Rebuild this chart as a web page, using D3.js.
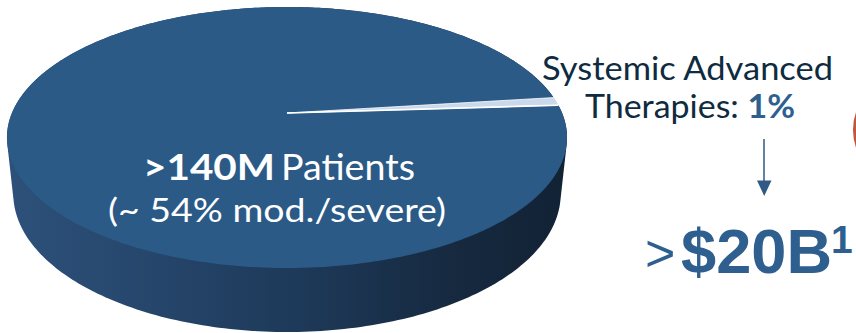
<!DOCTYPE html>
<html>
<head>
<meta charset="utf-8">
<script src="https://cdn.jsdelivr.net/npm/d3@7"></script>
<style>
  html, body { margin: 0; padding: 0; background: #ffffff; }
  svg { display: block; }
</style>
</head>
<body>
<svg id="chart" width="856" height="333"></svg>
<script>
// ---------------- data ----------------
const categories = ["Other patients", "Systemic Advanced Therapies"];
const shares = [99, 1];                       // percent of patients
const headlineValue = ">140M";
const headlineUnit = "Patients";
const subLine = "(~ 54% mod./severe)";
const calloutLine1 = "Systemic Advanced";
const calloutLine2 = "Therapies: ";
const calloutShare = "1%";
const marketPrefix = ">";
const marketValue = "$20B";
const marketFootnote = "1";

// ---------------- setup ----------------
const svg = d3.select("#chart");

const colors = d3.scaleOrdinal()
  .domain(categories)
  .range(["#2b5a87", "#c9d8ea"]);

// perspective projection of a disc (radius 1) lying in a horizontal plane
const cam = { u0: 287, v0: 113, f: 1303, D: 4.737, alpha: Math.asin(0.4578), depth: 0.2327 };
function project(X, Y, Z) {
  const ca = Math.cos(cam.alpha), sa = Math.sin(cam.alpha);
  const yc = Y * ca - Z * sa;
  const zc = cam.D - (Y * sa + Z * ca);
  return [cam.u0 + cam.f * X / zc, cam.v0 - cam.f * yc / zc];
}
// d3 pie angle (clockwise from 12 o'clock, 12 o'clock = far side)
function rimPoint(a, Y) { return project(Math.sin(a), Y, -Math.cos(a)); }

const systemicShare = shares[1] / d3.sum(shares);
const start = Math.PI / 2 - 2 * Math.PI * systemicShare;
const pie = d3.pie().sort(null).value(d => d.v)
  .startAngle(start).endAngle(start + 2 * Math.PI);
const arcs = pie(categories.map((c, i) => ({ c, v: shares[i] })));

// gradient for the side wall
const defs = svg.append("defs");
const grad = defs.append("linearGradient").attr("id", "side")
  .attr("x1", "0%").attr("x2", "100%").attr("y1", "0%").attr("y2", "0%");
[["0%", "#2d517a"], ["25%", "#26466c"], ["55%", "#1d3857"], ["80%", "#16293f"], ["100%", "#122235"]]
  .forEach(([o, c]) => grad.append("stop").attr("offset", o).attr("stop-color", c));

// side wall: hull of top and bottom rims
const rimPts = [];
const N = 360;
for (let i = 0; i < N; i++) {
  const a = i / N * 2 * Math.PI;
  rimPts.push(rimPoint(a, 0));
  rimPts.push(rimPoint(a, -cam.depth));
}
const hull = d3.polygonHull(rimPts);
svg.append("path")
  .attr("d", d3.line()(hull) + "Z")
  .attr("fill", "url(#side)");

// top face slices
const line = d3.line();
arcs.forEach(d => {
  const pts = [project(0, 0, 0)];
  const n = Math.max(4, Math.ceil((d.endAngle - d.startAngle) / (Math.PI / 180)) * 2);
  for (let i = 0; i <= n; i++) {
    const a = d.startAngle + (d.endAngle - d.startAngle) * i / n;
    pts.push(rimPoint(a, 0));
  }
  svg.append("path")
    .attr("d", line(pts) + "Z")
    .attr("fill", colors(d.data.c))
    .attr("stroke", d.data.c === categories[1] ? "#ffffff" : "none")
    .attr("stroke-width", 0.8)
    .attr("stroke-linejoin", "round");
});
// white separator line along the slice edge
const edgeA = arcs[1].endAngle;
svg.append("path")
  .attr("d", line([project(0, 0, 0), rimPoint(edgeA, 0)]))
  .attr("stroke", "#ffffff").attr("stroke-width", 1.6).attr("fill", "none");

// ---------------- labels on pie ----------------
const lato = "Lato, 'Open Sans', sans-serif";
svg.append("text")
  .attr("x", 143).attr("y", 179.5)
  .attr("font-family", lato).attr("font-weight", 700).attr("font-size", 37)
  .attr("fill", "#ffffff")
  .attr("textLength", 132).attr("lengthAdjust", "spacingAndGlyphs")
  .text(headlineValue);
svg.append("text")
  .attr("x", 281).attr("y", 179.5)
  .attr("font-family", lato).attr("font-weight", 400).attr("font-size", 36)
  .attr("fill", "#ffffff")
  .attr("textLength", 134).attr("lengthAdjust", "spacingAndGlyphs")
  .text(headlineUnit);
svg.append("text")
  .attr("x", 108).attr("y", 222)
  .attr("font-family", lato).attr("font-weight", 400).attr("font-size", 33)
  .attr("fill", "#ffffff")
  .attr("textLength", 338).attr("lengthAdjust", "spacingAndGlyphs")
  .text(subLine);

// ---------------- callout ----------------
const navy = "#0e2b40", blue = "#2e5f8f";
svg.append("text")
  .attr("x", 542).attr("y", 80)
  .attr("font-family", lato).attr("font-size", 32).attr("fill", navy)
  .attr("textLength", 291).attr("lengthAdjust", "spacingAndGlyphs")
  .text(calloutLine1);
const t2 = svg.append("text")
  .attr("x", 585).attr("y", 118)
  .attr("font-family", lato).attr("font-size", 32).attr("fill", navy)
  .attr("textLength", 210).attr("lengthAdjust", "spacingAndGlyphs");
t2.append("tspan").text(calloutLine2);
t2.append("tspan").attr("font-weight", 700).attr("fill", blue).text(calloutShare);

// arrow
svg.append("line")
  .attr("x1", 764).attr("x2", 764).attr("y1", 139).attr("y2", 182)
  .attr("stroke", "#2e5a85").attr("stroke-width", 1.5);
svg.append("path")
  .attr("d", line([[757, 180.5], [771.5, 180.5], [764.2, 196]]) + "Z")
  .attr("fill", "#2e5a85");

// market value
const arial = "'Liberation Sans', Arial, sans-serif";
svg.append("text")
  .attr("x", 645).attr("y", 270.5)
  .attr("font-family", arial).attr("font-size", 52).attr("fill", blue)
  .text(marketPrefix);
svg.append("text")
  .attr("x", 681).attr("y", 273)
  .attr("font-family", arial).attr("font-weight", 700).attr("font-size", 63).attr("fill", blue)
  .attr("textLength", 151).attr("lengthAdjust", "spacingAndGlyphs")
  .text(marketValue);
svg.append("text")
  .attr("x", 831).attr("y", 253)
  .attr("font-family", arial).attr("font-weight", 700).attr("font-size", 39).attr("fill", blue)
  .text(marketFootnote);

// neighbouring (cropped) circle at right edge
svg.append("circle")
  .attr("cx", 908).attr("cy", 130).attr("r", 55)
  .attr("fill", "#c0563b");
</script>
</body>
</html>
